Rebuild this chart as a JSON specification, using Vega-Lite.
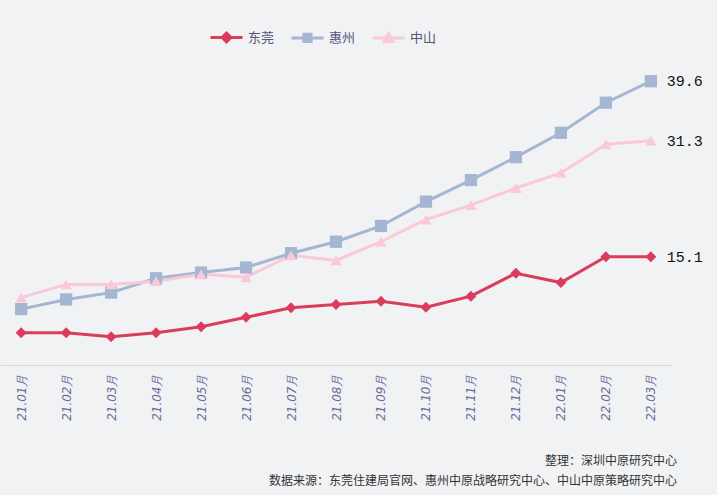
{
  "$schema": "https://vega.github.io/schema/vega-lite/v6.json",
  "width": 672,
  "height": 301,
  "autosize": {"type": "none"},
  "padding": {"left": 0, "top": 64, "right": 45, "bottom": 130},
  "background": "#f1f2f4",
  "config": {
    "view": {"stroke": null},
    "font": "Noto Sans CJK SC"
  },
  "title": {
    "text": ["整理：深圳中原研究中心", "数据来源：东莞住建局官网、惠州中原战略研究中心、中山中原策略研究中心"],
    "orient": "bottom",
    "anchor": "end",
    "frame": "group",
    "align": "right",
    "fontSize": 12,
    "fontWeight": "normal",
    "color": "#333333",
    "lineHeight": 20,
    "offset": 36,
    "dx": 5,
    "font": "Noto Sans CJK SC"
  },
  "data": {
    "values": [
      {"month": "21.01月", "city": "东莞", "value": 4.5},
      {"month": "21.02月", "city": "东莞", "value": 4.5},
      {"month": "21.03月", "city": "东莞", "value": 3.95},
      {"month": "21.04月", "city": "东莞", "value": 4.5},
      {"month": "21.05月", "city": "东莞", "value": 5.35},
      {"month": "21.06月", "city": "东莞", "value": 6.65},
      {"month": "21.07月", "city": "东莞", "value": 8.0},
      {"month": "21.08月", "city": "东莞", "value": 8.45},
      {"month": "21.09月", "city": "东莞", "value": 8.9},
      {"month": "21.10月", "city": "东莞", "value": 8.05},
      {"month": "21.11月", "city": "东莞", "value": 9.6},
      {"month": "21.12月", "city": "东莞", "value": 12.8},
      {"month": "22.01月", "city": "东莞", "value": 11.5},
      {"month": "22.02月", "city": "东莞", "value": 15.1},
      {"month": "22.03月", "city": "东莞", "value": 15.1},
      {"month": "21.01月", "city": "惠州", "value": 7.8},
      {"month": "21.02月", "city": "惠州", "value": 9.15},
      {"month": "21.03月", "city": "惠州", "value": 10.1},
      {"month": "21.04月", "city": "惠州", "value": 12.1},
      {"month": "21.05月", "city": "惠州", "value": 12.9},
      {"month": "21.06月", "city": "惠州", "value": 13.6},
      {"month": "21.07月", "city": "惠州", "value": 15.6},
      {"month": "21.08月", "city": "惠州", "value": 17.2},
      {"month": "21.09月", "city": "惠州", "value": 19.4},
      {"month": "21.10月", "city": "惠州", "value": 22.8},
      {"month": "21.11月", "city": "惠州", "value": 25.8},
      {"month": "21.12月", "city": "惠州", "value": 29.0},
      {"month": "22.01月", "city": "惠州", "value": 32.4},
      {"month": "22.02月", "city": "惠州", "value": 36.6},
      {"month": "22.03月", "city": "惠州", "value": 39.6},
      {"month": "21.01月", "city": "中山", "value": 9.4},
      {"month": "21.02月", "city": "中山", "value": 11.25},
      {"month": "21.03月", "city": "中山", "value": 11.25},
      {"month": "21.04月", "city": "中山", "value": 11.7},
      {"month": "21.05月", "city": "中山", "value": 12.65},
      {"month": "21.06月", "city": "中山", "value": 12.25},
      {"month": "21.07月", "city": "中山", "value": 15.3},
      {"month": "21.08月", "city": "中山", "value": 14.6},
      {"month": "21.09月", "city": "中山", "value": 17.2},
      {"month": "21.10月", "city": "中山", "value": 20.3},
      {"month": "21.11月", "city": "中山", "value": 22.3},
      {"month": "21.12月", "city": "中山", "value": 24.7},
      {"month": "22.01月", "city": "中山", "value": 26.8},
      {"month": "22.02月", "city": "中山", "value": 30.8},
      {"month": "22.03月", "city": "中山", "value": 31.3}
    ]
  },
  "encoding": {
    "x": {
      "field": "month",
      "type": "ordinal",
      "sort": null,
      "scale": {"type": "point", "padding": 0.47},
      "axis": {
        "title": null,
        "labelAngle": 270,
        "labelAlign": "right",
        "labelBaseline": "middle",
        "labelPadding": 9,
        "labelFontSize": 12,
        "labelFontStyle": "italic",
        "labelColor": "#6b6b9b",
        "labelFont": "DejaVu Sans",
        "ticks": false,
        "domainColor": "#d9d9d9",
        "domainWidth": 1,
        "grid": false
      }
    },
    "y": {
      "field": "value",
      "type": "quantitative",
      "scale": {"domain": [0, 42], "nice": false},
      "axis": null
    },
    "color": {
      "field": "city",
      "type": "nominal",
      "sort": ["东莞", "惠州", "中山"],
      "scale": {"domain": ["东莞", "惠州", "中山"], "range": ["#dc3c5c", "#a4b6d2", "#fbc8da"]},
      "legend": {
        "title": null,
        "orient": "none",
        "legendX": 217,
        "legendY": -36,
        "direction": "horizontal",
        "labelFontSize": 13,
        "labelColor": "#55557a",
        "labelOffset": 12,
        "columnPadding": 10,
        "symbolSize": 256,
        "symbolStrokeWidth": 3,
        "symbolOpacity": 1
      }
    }
  },
  "layer": [
    {
      "mark": {"type": "line", "strokeWidth": 3}
    },
    {
      "transform": [{"filter": "datum.city === '东莞'"}],
      "mark": {"type": "point", "shape": "diamond", "filled": true, "size": 120, "opacity": 1}
    },
    {
      "transform": [{"filter": "datum.city === '惠州'"}],
      "mark": {"type": "point", "shape": "square", "filled": true, "size": 150, "opacity": 1}
    },
    {
      "transform": [{"filter": "datum.city === '中山'"}],
      "mark": {"type": "point", "shape": "triangle-up", "filled": true, "size": 130, "opacity": 1}
    },
    {
      "transform": [{"filter": "datum.month === '22.03月'"}],
      "mark": {"type": "text", "align": "left", "baseline": "middle", "dx": 16, "fontSize": 15, "color": "#111111", "font": "Liberation Mono"},
      "encoding": {
        "text": {"field": "value", "type": "quantitative", "format": ".1f"},
        "color": {"value": "#111111"}
      }
    },
    {
      "mark": {"type": "point", "filled": true, "opacity": 0, "size": 256},
      "encoding": {
        "shape": {
          "field": "city",
          "type": "nominal",
          "sort": ["东莞", "惠州", "中山"],
          "scale": {
            "domain": ["东莞", "惠州", "中山"],
            "range": [
              "M-2,0H2M0,-0.55L0.55,0L0,0.55L-0.55,0Z",
              "M-2,0H2M-0.45,-0.45H0.45V0.45H-0.45Z",
              "M-2,0H2M0,-0.55L0.55,0.45H-0.55Z"
            ]
          },
          "legend": {
            "title": null,
            "orient": "none",
            "legendX": 217,
            "legendY": -36,
            "direction": "horizontal",
            "labelFontSize": 13,
            "labelColor": "#55557a",
            "labelOffset": 12,
            "columnPadding": 10,
            "symbolSize": 256,
            "symbolStrokeWidth": 3,
            "symbolOpacity": 1
          }
        }
      }
    }
  ]
}
